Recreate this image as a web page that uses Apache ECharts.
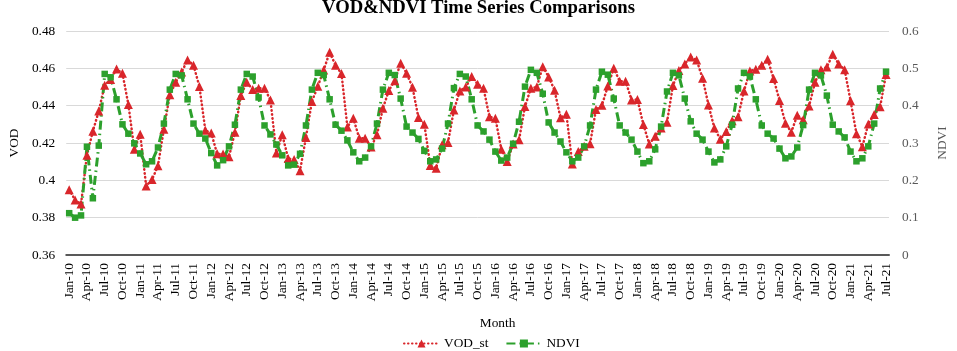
<!DOCTYPE html>
<html>
<head>
<meta charset="utf-8">
<title>VOD&NDVI Time Series Comparisons</title>
<script src="https://cdn.jsdelivr.net/npm/echarts@6/dist/echarts.min.js"></script>
<style>
  html, body { margin: 0; padding: 0; background: #fff; }
  #chart { width: 957px; height: 351px; }
</style>
</head>
<body>
<div id="chart"></div>
<script>
// ---- data ----
const monthNames = ['Jan', 'Feb', 'Mar', 'Apr', 'May', 'Jun', 'Jul', 'Aug', 'Sep', 'Oct', 'Nov', 'Dec'];
const firstYear = 10, lastYear = 21, lastMonth = 7; // Jan-10 .. Jul-21

const months = [];
for (let y = firstYear; y <= lastYear; y++) {
    for (let m = 0; m < 12; m++) {
        if (y === lastYear && m >= lastMonth) break;
        months.push(monthNames[m] + '-' + y);
    }
}

const vodSt = [
    0.395, 0.3895, 0.3873, 0.4135, 0.4263, 0.4371, 0.451, 0.454, 0.4596, 0.4573, 0.4406, 0.4167,
    0.4247, 0.397, 0.4004, 0.4078, 0.4274, 0.4458, 0.4525, 0.458, 0.4645, 0.4617, 0.4503, 0.4268,
    0.4253, 0.4142, 0.4141, 0.4126, 0.4258, 0.4454, 0.4525, 0.4487, 0.4493, 0.4493, 0.443, 0.4147,
    0.4244, 0.4117, 0.4111, 0.4052, 0.4229, 0.4422, 0.4504, 0.4591, 0.4686, 0.4616, 0.4572, 0.4286,
    0.4333, 0.4226, 0.4226, 0.4178, 0.4244, 0.4386, 0.4481, 0.4534, 0.4627, 0.4574, 0.4498, 0.4336,
    0.4301, 0.408, 0.4065, 0.419, 0.4203, 0.4377, 0.4479, 0.45, 0.4556, 0.4515, 0.4493, 0.434,
    0.4333, 0.4167, 0.4101, 0.4194, 0.4217, 0.4395, 0.4493, 0.45, 0.4609, 0.4554, 0.4482, 0.4335,
    0.4354, 0.4087, 0.4154, 0.4182, 0.4196, 0.4379, 0.4402, 0.4505, 0.46, 0.4531, 0.4531, 0.4431,
    0.4433, 0.4299, 0.4195, 0.4236, 0.428, 0.4311, 0.4508, 0.4588, 0.4623, 0.4661, 0.4645, 0.4547,
    0.4404, 0.428, 0.422, 0.4262, 0.4319, 0.434, 0.4479, 0.4586, 0.4595, 0.4616, 0.4648, 0.4545,
    0.4428, 0.4306, 0.4258, 0.4349, 0.4324, 0.4398, 0.4525, 0.4593, 0.4607, 0.4675, 0.4623, 0.4593,
    0.4427, 0.425, 0.418, 0.4302, 0.4353, 0.4394, 0.4567
];

const ndvi = [
    0.112, 0.100, 0.106, 0.290, 0.152, 0.293, 0.485, 0.476, 0.417, 0.350, 0.325, 0.299,
    0.272, 0.243, 0.251, 0.288, 0.352, 0.443, 0.485, 0.481, 0.417, 0.352, 0.325, 0.312,
    0.273, 0.240, 0.254, 0.291, 0.349, 0.443, 0.485, 0.478, 0.422, 0.347, 0.323, 0.296,
    0.267, 0.240, 0.242, 0.271, 0.347, 0.443, 0.488, 0.482, 0.417, 0.349, 0.333, 0.307,
    0.275, 0.251, 0.261, 0.291, 0.352, 0.443, 0.488, 0.482, 0.419, 0.344, 0.328, 0.311,
    0.279, 0.251, 0.256, 0.285, 0.352, 0.447, 0.485, 0.478, 0.417, 0.347, 0.331, 0.309,
    0.277, 0.253, 0.261, 0.298, 0.357, 0.451, 0.496, 0.488, 0.432, 0.355, 0.328, 0.304,
    0.275, 0.251, 0.261, 0.291, 0.347, 0.443, 0.491, 0.483, 0.419, 0.347, 0.328, 0.309,
    0.277, 0.246, 0.251, 0.283, 0.344, 0.438, 0.488, 0.481, 0.419, 0.358, 0.325, 0.309,
    0.277, 0.248, 0.256, 0.291, 0.349, 0.446, 0.488, 0.478, 0.417, 0.347, 0.325, 0.312,
    0.285, 0.259, 0.264, 0.288, 0.348, 0.443, 0.488, 0.481, 0.427, 0.349, 0.331, 0.315,
    0.277, 0.251, 0.259, 0.291, 0.352, 0.446, 0.491
];

// ---- chart ----
const serif = 'Liberation Serif';
const red = '#d9262b';
const green = '#2ca02c';

const chart = echarts.init(document.getElementById('chart'));

const option = {
    animation: false,
    title: {
        text: 'VOD&NDVI Time Series Comparisons',
        left: 'center',
        top: -6,
        textStyle: { fontFamily: serif, fontSize: 18.67, fontWeight: 'bold', color: '#000' }
    },
    legend: {
        left: 398,
        top: 331,
        itemWidth: 35,
        itemHeight: 10,
        itemGap: 17,
        textStyle: { fontFamily: serif, fontSize: 13.33, color: '#000', lineHeight: 15 },
        data: ['VOD_st', 'NDVI']
    },
    grid: { left: 54, right: 55, top: 31, bottom: 96 },
    xAxis: {
        type: 'category',
        data: months,
        boundaryGap: true,
        name: 'Month',
        nameLocation: 'middle',
        nameGap: 62,
        nameTextStyle: { fontFamily: serif, fontSize: 13.33, color: '#000', padding: [0, 0, 0, 40] },
        axisLine: { lineStyle: { color: '#595959', width: 2 } },
        axisTick: { interval: 2, length: 5, lineStyle: { color: '#595959', width: 1.5 } },
        axisLabel: { interval: 2, rotate: 90, margin: 8, fontFamily: serif, fontSize: 13.33, color: '#000' },
        splitLine: { show: false }
    },
    yAxis: [{
        type: 'value',
        min: 0.36, max: 0.48, interval: 0.02,
        name: 'VOD',
        nameLocation: 'middle',
        nameGap: 42,
        nameRotate: 90,
        nameTextStyle: { fontFamily: serif, fontSize: 13.33, color: '#000' },
        axisLine: { show: false },
        axisTick: { show: false },
        axisLabel: { margin: 11, fontFamily: serif, fontSize: 13.33, color: '#000' },
        splitLine: { lineStyle: { color: '#d9d9d9', width: 1 } }
    }, {
        type: 'value',
        min: 0, max: 0.6, interval: 0.1,
        name: 'NDVI',
        nameLocation: 'middle',
        nameGap: 47,
        nameRotate: 90,
        nameTextStyle: { fontFamily: serif, fontSize: 13.33, color: '#595959' },
        axisLine: { show: false },
        axisTick: { show: false },
        axisLabel: { margin: 13, fontFamily: serif, fontSize: 13.33, color: '#595959' },
        splitLine: { show: false }
    }],
    series: [{
        name: 'VOD_st',
        type: 'line',
        yAxisIndex: 0,
        data: vodSt,
        symbol: 'triangle',
        symbolSize: 9,
        showAllSymbol: true,
        itemStyle: { color: red },
        lineStyle: { color: red, width: 2.5, type: [0.5, 3.5], cap: 'round' }
    }, {
        name: 'NDVI',
        type: 'line',
        yAxisIndex: 1,
        data: ndvi,
        symbol: 'rect',
        symbolSize: 6.5,
        showAllSymbol: true,
        itemStyle: { color: green },
        lineStyle: { color: green, width: 3, type: [9, 4, 1.5, 4] }
    }]
};

chart.setOption(option);
window.addEventListener('resize', () => chart.resize());
</script>
</body>
</html>
